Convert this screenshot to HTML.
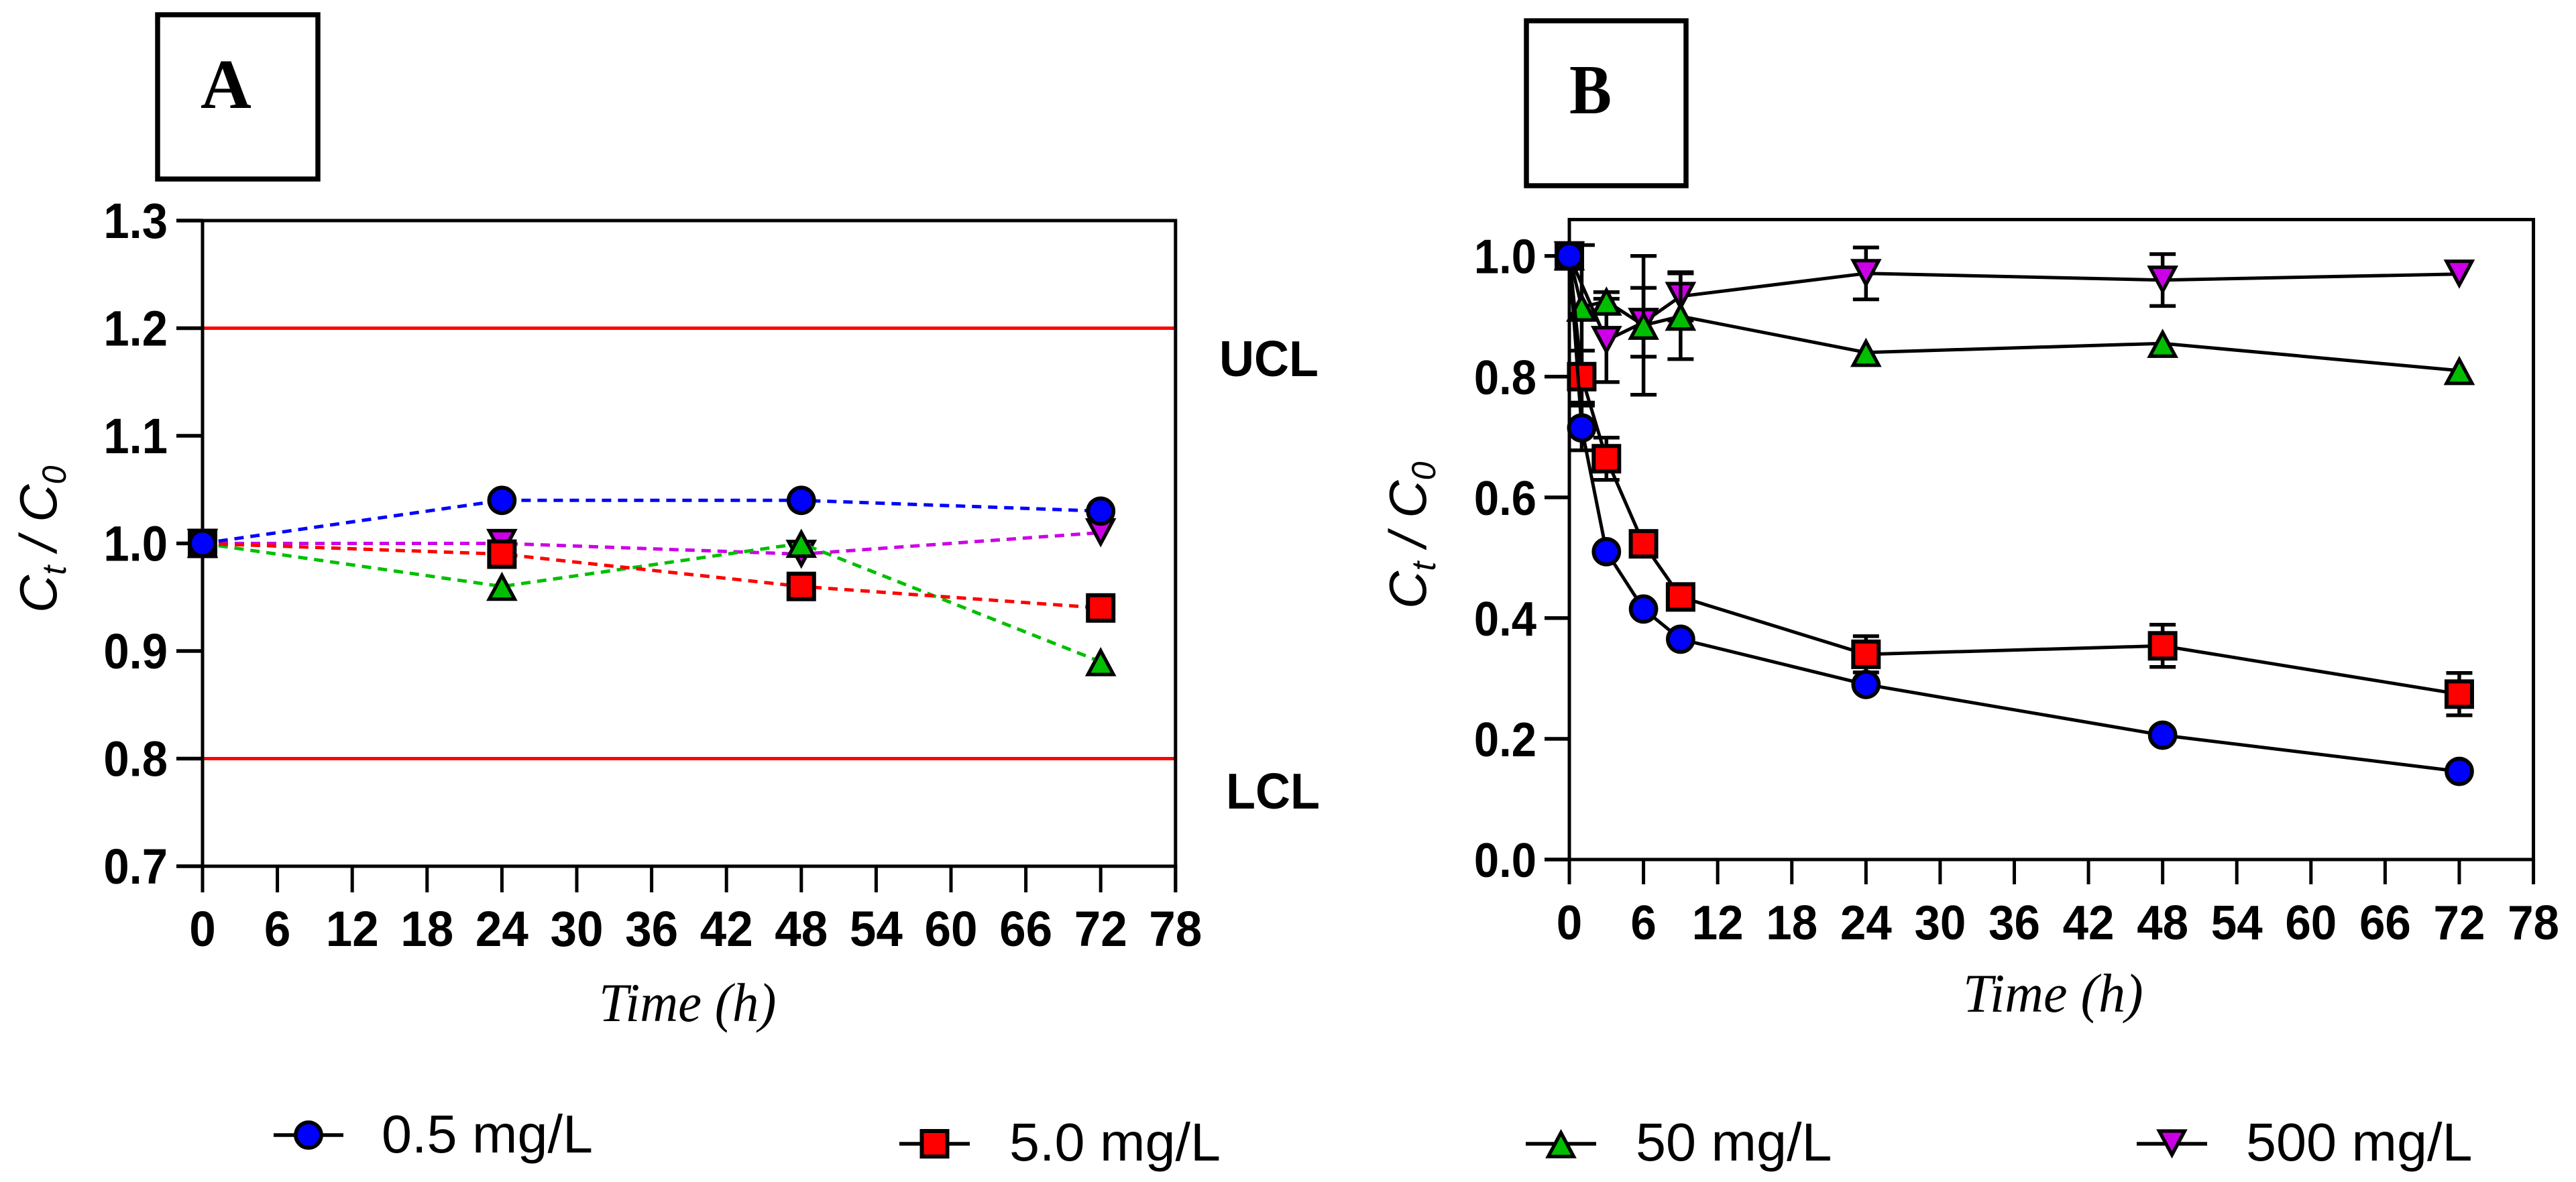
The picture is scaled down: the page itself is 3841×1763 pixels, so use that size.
<!DOCTYPE html>
<html lang="en">
<head>
<meta charset="utf-8">
<title>Ct/C0 over time, panels A and B</title>
<style>
html,body{margin:0;padding:0;background:#fff;width:3841px;height:1763px;overflow:hidden}
svg{display:block}
text{fill:#000}
.sans{font-family:"Liberation Sans",Arial,sans-serif}
.serif{font-family:"Liberation Serif","Times New Roman",serif}
</style>
</head>
<body>
<svg id="figure" xmlns="http://www.w3.org/2000/svg" width="3841" height="1763" viewBox="0 0 3841 1763">
  <rect x="0" y="0" width="3841" height="1763" fill="#fff"/>

  <g>
    <rect x="235" y="22" width="239" height="245" fill="none" stroke="#000" stroke-width="7.5"/>
    <text class="serif" x="299" y="161" font-size="105" font-weight="700">A</text>
  </g>
  <g>
    <rect x="2276" y="31" width="238" height="246" fill="none" stroke="#000" stroke-width="7.5"/>
    <text class="serif" transform="translate(2340,169) scale(0.9,1)" font-size="105" font-weight="700">B</text>
  </g>

  <g id="panel-a"></g>
  <g id="panel-b"></g>

  <text class="sans" transform="translate(84,914) rotate(-90)" font-size="78" font-style="italic">C<tspan font-size="50" dy="14">t</tspan><tspan dy="-14"> / C</tspan><tspan font-size="50" dy="14">0</tspan></text>
  <text class="sans" transform="translate(2126,908) rotate(-90)" font-size="78" font-style="italic">C<tspan font-size="50" dy="14">t</tspan><tspan dy="-14"> / C</tspan><tspan font-size="50" dy="14">0</tspan></text>

  <text class="serif" transform="translate(893,1523) scale(0.96,1)" font-size="82" font-style="italic">Time (h)</text>
  <text class="serif" transform="translate(2927,1509) scale(0.975,1)" font-size="82" font-style="italic">Time (h)</text>

  <text class="sans" transform="translate(1818,561) scale(0.96,1)" font-size="75" font-weight="700">UCL</text>
  <text class="sans" transform="translate(1828,1206) scale(0.96,1)" font-size="75" font-weight="700">LCL</text>

  <g id="legend">
    <g id="legend-blue">
      <text class="sans" transform="translate(569,1719) scale(1.012,1)" font-size="80">0.5 mg/L</text>
    </g>
    <g id="legend-red">
      <text class="sans" transform="translate(1505,1731) scale(1.012,1)" font-size="80">5.0 mg/L</text>
    </g>
    <g id="legend-green">
      <text class="sans" transform="translate(2439,1731) scale(1.012,1)" font-size="80">50 mg/L</text>
    </g>
    <g id="legend-magenta">
      <text class="sans" transform="translate(3349,1731) scale(1.012,1)" font-size="80">500 mg/L</text>
    </g>
  </g>
</svg>

<script>
// ---------- Panel A data ----------
const xTickLabelsA = [0, 6, 12, 18, 24, 30, 36, 42, 48, 54, 60, 66, 72, 78];
const yTickLabelsA = ['0.7', '0.8', '0.9', '1.0', '1.1', '1.2', '1.3'];
const timesA = [0, 24, 48, 72];
const blueA = [1.0, 1.04, 1.04, 1.03];
const redA = [1.0, 0.99, 0.96, 0.94];
const greenA = [1.0, 0.96, 1.0, 0.89];
const magentaA = [1.0, 1.0, 0.99, 1.01];
const controlLimitsA = [1.2, 0.8];

// ---------- Panel B data ----------
const xTickLabelsB = [0, 6, 12, 18, 24, 30, 36, 42, 48, 54, 60, 66, 72, 78];
const yTickLabelsB = ['0.0', '0.2', '0.4', '0.6', '0.8', '1.0'];
const timesB = [0, 1, 3, 6, 9, 24, 48, 72];
const blueB = [1.0, 0.715, 0.51, 0.415, 0.365, 0.29, 0.206, 0.146];
const blueErrB = [0, 0.037, 0, 0, 0, 0, 0, 0];
const redB = [1.0, 0.80, 0.664, 0.523, 0.435, 0.34, 0.354, 0.274];
const redErrB = [0, 0.043, 0.035, 0.01, 0.01, 0.03, 0.035, 0.035];
const greenB = [1.0, 0.915, 0.925, 0.885, 0.90, 0.84, 0.855, 0.81];
const greenErrB = [0, 0.103, 0.015, 0.115, 0.071, 0, 0, 0];
const timesMagentaB = [0, 3, 6, 9, 24, 48, 72];
const magentaB = [1.0, 0.86, 0.89, 0.933, 0.971, 0.96, 0.97];
const magentaErrB = [0, 0.069, 0.057, 0.04, 0.043, 0.043, 0];

const SVGNS = 'http://www.w3.org/2000/svg';
const BLUE = '#0000ff', RED = '#ff0000', GREEN = '#00bf00', MAGENTA = '#cc00e6';

function make(tag, attrs, parent) {
  const el = document.createElementNS(SVGNS, tag);
  for (const k in attrs) el.setAttribute(k, attrs[k]);
  parent.appendChild(el);
  return el;
}

function markerShape(kind, cx, cy, color, parent) {
  let el;
  if (kind === 'circle') {
    el = make('circle', {cx: cx, cy: cy, r: 19, fill: color, stroke: '#000', 'stroke-width': 5.8}, parent);
  } else if (kind === 'square') {
    el = make('rect', {x: cx - 19, y: cy - 19, width: 38, height: 38, fill: color, stroke: '#000', 'stroke-width': 6}, parent);
  } else if (kind === 'up') {
    el = make('path', {d: 'M' + cx + ' ' + (cy - 16.5) + 'L' + (cx + 19) + ' ' + (cy + 19) + 'L' + (cx - 19) + ' ' + (cy + 19) + 'Z', fill: color, stroke: '#000', 'stroke-width': 5.2, 'stroke-linejoin': 'miter', 'stroke-miterlimit': 4}, parent);
  } else {
    el = make('path', {d: 'M' + cx + ' ' + (cy + 16.5) + 'L' + (cx + 19) + ' ' + (cy - 19) + 'L' + (cx - 19) + ' ' + (cy - 19) + 'Z', fill: color, stroke: '#000', 'stroke-width': 5.2, 'stroke-linejoin': 'miter', 'stroke-miterlimit': 4}, parent);
  }
  return el;
}

function drawFrame(panel, p) {
  const frame = make('g', {}, panel);
  
  

  const left = make('line', {x1: p.x(0), x2: p.x(0), y1: p.top - 2.5, y2: p.bottom + p.tickLen, stroke: '#000', 'stroke-width': 5}, frame);
  
  

  const right = make('line', {x1: p.x(78), x2: p.x(78), y1: p.top - 2.5, y2: p.bottom + p.tickLen, stroke: '#000', 'stroke-width': 5}, frame);
  
  

  const top = make('line', {x1: p.x(0), x2: p.x(78), y1: p.top, y2: p.top, stroke: '#000', 'stroke-width': 5}, frame);
  
  

  const bottom = make('line', {x1: p.x(0), x2: p.x(78) + 2.5, y1: p.bottom, y2: p.bottom, stroke: '#000', 'stroke-width': 5}, frame);
  
  

  p.xTicks.forEach(function (t) {
    const tick = make('line', {x1: p.x(t), x2: p.x(t), y1: p.bottom, y2: p.bottom + p.tickLen, stroke: '#000', 'stroke-width': 5}, frame);
    
    

    const label = make('text', {transform: 'translate(' + p.x(t) + ',' + p.xLabelY + ') scale(0.96,1)', 'text-anchor': 'middle', 'font-size': p.fontSize, 'font-weight': 700, class: 'sans'}, frame);
    label.textContent = String(t);
    
    
  });

  p.yTicks.forEach(function (t) {
    const v = parseFloat(t);
    const tick = make('line', {x1: p.yTickLeft, x2: p.x(0), y1: p.y(v), y2: p.y(v), stroke: '#000', 'stroke-width': 5.5}, frame);
    
    

    const label = make('text', {transform: 'translate(' + p.yLabelRight + ',' + (p.y(v) + 26) + ') scale(0.93,1)', 'text-anchor': 'end', 'font-size': p.fontSize, 'font-weight': 700, class: 'sans'}, frame);
    label.textContent = t;
    
    
  });
}

function polyPoints(xs, ys, p) {
  return xs.map(function (x, i) { return p.x(x).toFixed(1) + ',' + p.y(ys[i]).toFixed(1); }).join(' ');
}

function drawSeries(panel, p, s) {
  const group = make('g', {}, panel);
  
  

  if (s.err) {
    s.times.forEach(function (x, i) {
      if (!s.err[i]) return;
      const cx = p.x(x), hi = p.y(s.vals[i] + s.err[i]), lo = p.y(s.vals[i] - s.err[i]);
      const bar = make('path', {d: 'M' + cx + ' ' + hi + 'V' + lo + 'M' + (cx - 19.5) + ' ' + hi + 'H' + (cx + 19.5) + 'M' + (cx - 19.5) + ' ' + lo + 'H' + (cx + 19.5), fill: 'none', stroke: '#000', 'stroke-width': 5.5}, group);
      
      
    });
  }

  const attrs = {points: polyPoints(s.times, s.vals, p), fill: 'none', stroke: s.dashed ? s.color : '#000', 'stroke-width': 5, 'stroke-linejoin': 'round'};
  if (s.dashed) attrs['stroke-dasharray'] = '14 10';
  const line = make('polyline', attrs, group);
  
  

  s.times.forEach(function (x, i) {
    const m = markerShape(s.kind, p.x(x), p.y(s.vals[i]), s.color, group);
    
    
  });
}

function drawLegendEntry(id, x0, x1, y, kind, color) {
  const parent = document.getElementById(id);
  const l = make('line', {x1: x0, x2: x1, y1: y, y2: y, stroke: '#000', 'stroke-width': 5.5}, parent);
  
  
  const m = markerShape(kind, (x0 + x1) / 2, y, color, parent);
  
  
}

// ---------- Panel A ----------
const panelA = {
  x: function (v) { return 302 + v * 18.6; },
  y: function (v) { return 1292 - (v - 0.7) * 1605; },
  top: 329, bottom: 1292, tickLen: 39, yTickLeft: 263, yLabelRight: 250, xLabelY: 1411, fontSize: 74,
  xTicks: xTickLabelsA, yTicks: yTickLabelsA
};
const gA = document.getElementById('panel-a');
controlLimitsA.forEach(function (v) {
  const lim = make('line', {x1: panelA.x(0), x2: panelA.x(78), y1: panelA.y(v), y2: panelA.y(v), stroke: RED, 'stroke-width': 5}, gA);
  
  
});
drawFrame(gA, panelA);
drawSeries(gA, panelA, {name: '500-mg-l', times: timesA, vals: magentaA, color: MAGENTA, kind: 'down', dashed: true});
drawSeries(gA, panelA, {name: '50-mg-l', times: timesA, vals: greenA, color: GREEN, kind: 'up', dashed: true});
drawSeries(gA, panelA, {name: '5-mg-l', times: timesA, vals: redA, color: RED, kind: 'square', dashed: true});
drawSeries(gA, panelA, {name: '0-5-mg-l', times: timesA, vals: blueA, color: BLUE, kind: 'circle', dashed: true});

// ---------- Panel B ----------
const panelB = {
  x: function (v) { return 2340 + v * 18.43; },
  y: function (v) { return 1282 - v * 900.3; },
  top: 327.5, bottom: 1282, tickLen: 37, yTickLeft: 2303, yLabelRight: 2291, xLabelY: 1401, fontSize: 72,
  xTicks: xTickLabelsB, yTicks: yTickLabelsB
};
const gB = document.getElementById('panel-b');
drawFrame(gB, panelB);
drawSeries(gB, panelB, {name: '500-mg-l', times: timesMagentaB, vals: magentaB, err: magentaErrB, color: MAGENTA, kind: 'down'});
drawSeries(gB, panelB, {name: '50-mg-l', times: timesB, vals: greenB, err: greenErrB, color: GREEN, kind: 'up'});
drawSeries(gB, panelB, {name: '5-mg-l', times: timesB, vals: redB, err: redErrB, color: RED, kind: 'square'});
drawSeries(gB, panelB, {name: '0-5-mg-l', times: timesB, vals: blueB, err: blueErrB, color: BLUE, kind: 'circle'});

// ---------- Legend ----------
drawLegendEntry('legend-blue', 408, 512, 1693, 'circle', BLUE);
drawLegendEntry('legend-red', 1341, 1446, 1706, 'square', RED);
drawLegendEntry('legend-green', 2275, 2380, 1706, 'up', GREEN);
drawLegendEntry('legend-magenta', 3186, 3291, 1706, 'down', MAGENTA);
</script>
</body>
</html>
